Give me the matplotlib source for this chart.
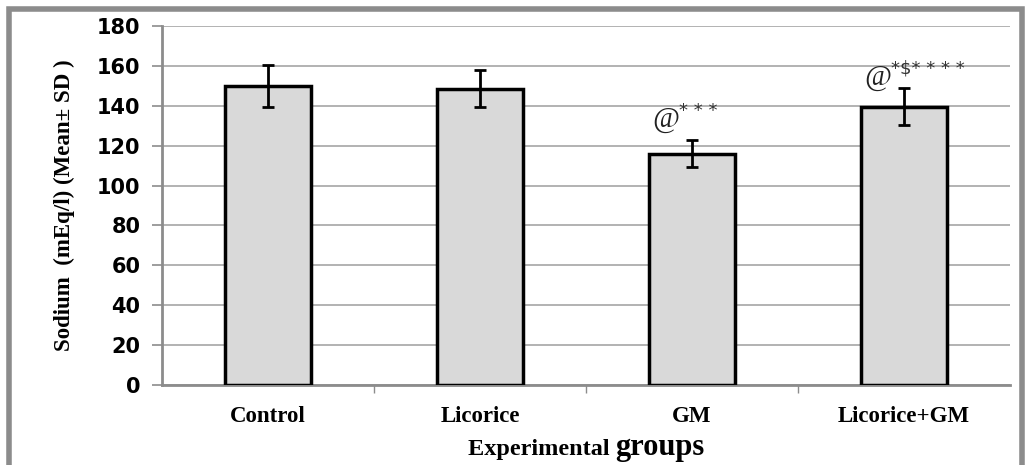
import matplotlib.pyplot as plt
import matplotlib.patches as mpatches

groups = ['Control', 'Licorice', 'GM', 'Licorice+GM']
means = [150, 148.5, 116, 139.5]
sds = [10.5, 9.3, 6.8, 9.3]
yticks = [0, 20, 40, 60, 80, 100, 120, 140, 160, 180]

fig = plt.figure(figsize=(10.29, 4.65), dpi=100)
ax = fig.add_axes([0.1574, 0.172, 0.8241, 0.772])

x = list(range(len(groups)))
ax.bar(x, means, width=0.41, color='#d9d9d9', edgecolor='black', linewidth=2.5, zorder=3)
ax.errorbar(x, means, yerr=sds, fmt='none', ecolor='black', elinewidth=2,
            capsize=4.5, capthick=2, zorder=4)

ax.set_xlim(-0.5, 3.5)
ax.set_ylim(0, 180)
ax.set_yticks(yticks)
ax.set_yticklabels([str(t) for t in yticks], fontsize=15, fontweight='bold', family='DejaVu Sans')
ax.yaxis.grid(True, color='#a6a6a6', linewidth=1.2, zorder=0)
ax.tick_params(axis='y', length=7, width=1.2, color='#8c8c8c', pad=8.5)

# category labels and tick marks between groups
ax.set_xticks([0.5, 1.5, 2.5], minor=False)
ax.set_xticklabels([])
ax.tick_params(axis='x', length=6, width=1, color='#8c8c8c')
for xi, g in zip(x, groups):
    ax.text(xi, -10.5, g, ha='center', va='top', fontsize=16.5, fontweight='bold',
            family='Liberation Serif')

for side in ['top', 'right']:
    ax.spines[side].set_visible(False)
ax.spines['left'].set_color('#8c8c8c')
ax.spines['left'].set_linewidth(2)
ax.spines['bottom'].set_color('#8c8c8c')
ax.spines['bottom'].set_linewidth(2)

ax.set_ylabel('Sodium  (mEq/l) (Mean\u00b1 SD )', fontsize=16.5, fontweight='bold',
              family='Liberation Serif', labelpad=16)

# significance marks
def mark(xc, y, stars):
    ax.text(xc - 0.06, y, '@', fontsize=21, style='italic',
            family='Liberation Serif', ha='right', va='center', color='#222222')
    ax.text(xc - 0.06, y + 4.5, stars, fontsize=13, family='DejaVu Sans',
            ha='left', va='center', color='#333333')

mark(2, 133, '* * *')
mark(3, 154, '*$* * * *')

# x axis title: mixed sizes
fig.text(0.598, 0.022, 'Experimental ', fontsize=17.5, fontweight='bold',
         family='Liberation Serif', ha='right', va='baseline')
fig.text(0.598, 0.022, 'groups', fontsize=22, fontweight='bold',
         family='Liberation Serif', ha='left', va='baseline')

# outer frame
frame = mpatches.Rectangle((0.009, -0.05), 0.984, 1.03, transform=fig.transFigure,
                           fill=False, edgecolor='#8c8c8c', linewidth=4)
fig.patches.append(frame)

fig.savefig('out.png', dpi=100)
